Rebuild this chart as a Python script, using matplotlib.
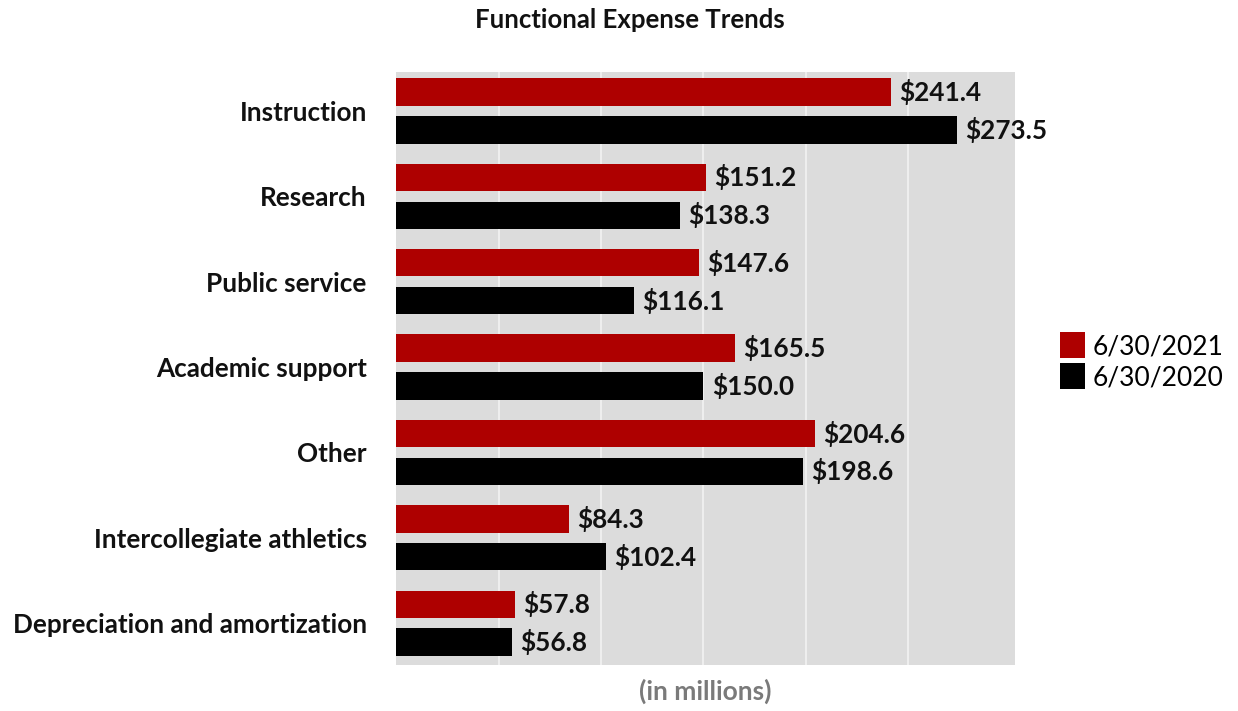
import numpy as np
import matplotlib
matplotlib.use('Agg')
import matplotlib.pyplot as plt
from matplotlib.patches import Patch

plt.rcParams['font.family'] = ['Lato', 'DejaVu Sans']

categories = ['Instruction', 'Research', 'Public service', 'Academic support',
              'Other', 'Intercollegiate athletics', 'Depreciation and amortization']
fy2021 = [241.4, 151.2, 147.6, 165.5, 204.6, 84.3, 57.8]
fy2020 = [273.5, 138.3, 116.1, 150.0, 198.6, 102.4, 56.8]
series_names = ['6/30/2021', '6/30/2020']

red = '#ae0000'
black = '#000000'

fig = plt.figure(figsize=(12.38, 7.11), dpi=100)
ax = fig.add_axes([0.3199, 0.0647, 0.50, 0.834])
ax.set_facecolor('#dcdcdc')

y = np.arange(len(categories))
h = 0.32
off = 0.222
b1 = ax.barh(y - off, fy2021, height=h, color=red, zorder=3)
b2 = ax.barh(y + off, fy2020, height=h, color=black, zorder=3)

for bars, vals in ((b1, fy2021), (b2, fy2020)):
    for bar, v in zip(bars, vals):
        ax.text(v + 4, bar.get_y() + bar.get_height() / 2, f'${v:.1f}',
                va='center', ha='left', fontsize=18.8, fontweight='bold',
                color='#111111', zorder=4)

ax.set_xlim(0, 302)
ax.set_ylim(6.49, -0.457)
ax.set_xticks([50, 100, 150, 200, 250])
ax.xaxis.grid(True, color='#f2f2f2', linewidth=1.2, zorder=1)
ax.tick_params(axis='x', length=0, labelbottom=False)
ax.set_yticks(y)
ax.set_yticklabels(categories, fontsize=18.8, fontweight='bold', color='#111111')
ax.tick_params(axis='y', length=0, pad=21)
for s in ax.spines.values():
    s.set_visible(False)

ax.set_xlabel('(in millions)', fontsize=19, fontweight='bold', color='#7a7a7a',
              labelpad=10)

fig.text(0.509, 0.972, 'Functional Expense Trends', ha='center', va='center',
         fontsize=18.5, fontweight='bold', color='#111111')

handles = [Patch(facecolor=red), Patch(facecolor=black)]
fig.legend(handles, series_names, loc='center left', bbox_to_anchor=(0.856, 0.492),
           frameon=False, prop={'size': 19, 'weight': 'normal'},
           borderpad=0, borderaxespad=0,
           handlelength=0.95, handleheight=1.15,
           handletextpad=0.3, labelspacing=0.15)

fig.savefig('out.png', dpi=100)
